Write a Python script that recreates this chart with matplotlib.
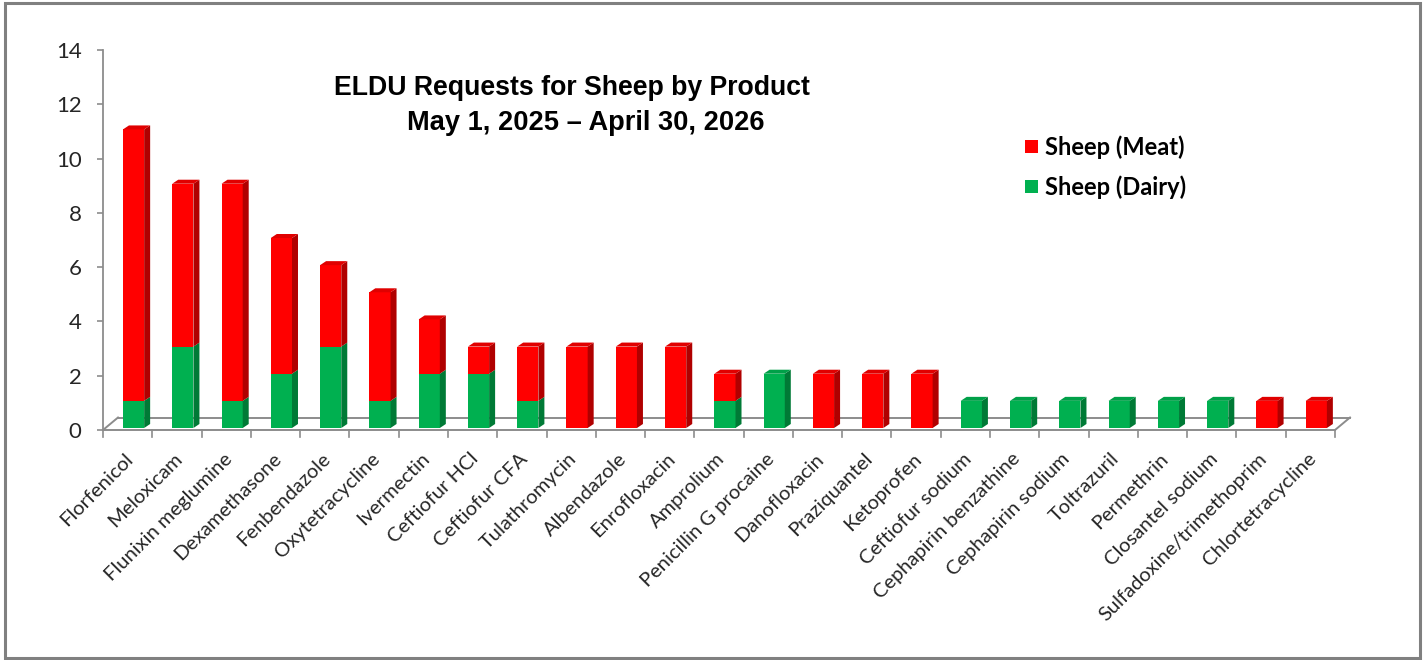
import matplotlib
matplotlib.use("Agg")
import matplotlib.pyplot as plt
from matplotlib.patches import Rectangle, Polygon
from matplotlib.lines import Line2D
import matplotlib.transforms as mtransforms

# ---- data -------------------------------------------------------------
products = [
    "Florfenicol", "Meloxicam", "Flunixin meglumine", "Dexamethasone",
    "Fenbendazole", "Oxytetracycline", "Ivermectin", "Ceftiofur HCl",
    "Ceftiofur CFA", "Tulathromycin", "Albendazole", "Enrofloxacin",
    "Amprolium", "Penicillin G procaine", "Danofloxacin", "Praziquantel",
    "Ketoprofen", "Ceftiofur sodium", "Cephapirin benzathine",
    "Cephapirin sodium", "Toltrazuril", "Permethrin", "Closantel sodium",
    "Sulfadoxine/trimethoprim", "Chlortetracycline",
]
sheep_dairy = [1, 3, 1, 2, 3, 1, 2, 2, 1, 0, 0, 0, 1, 2, 0, 0, 0,
               1, 1, 1, 1, 1, 1, 0, 0]
sheep_meat = [10, 6, 8, 5, 3, 4, 2, 1, 2, 3, 3, 3, 1, 0, 2, 2, 2,
              0, 0, 0, 0, 0, 0, 1, 1]
y_ticks = [0, 2, 4, 6, 8, 10, 12, 14]

title_line1 = "ELDU Requests for Sheep by Product"
title_line2 = "May 1, 2025 \u2013 April 30, 2026"
series_names = ["Sheep (Meat)", "Sheep (Dairy)"]

# ---- styling ----------------------------------------------------------
W, H, DPI = 1426, 660, 100
RED = ("#FF0000", "#B00000", "#E00000")      # front, side, top
GREEN = ("#00B050", "#007A36", "#00A048")
AXIS_GRAY = "#8C8C8C"
TEXT_COL = "#262626"
LABEL_FONT = ["Lato", "DejaVu Sans"]

fig = plt.figure(figsize=(W / DPI, H / DPI), dpi=DPI)
fig.patch.set_facecolor("white")

# outer frame
fig.add_artist(Rectangle((5 / W, 1 - 658 / H), (1420 - 5) / W, (658 - 3) / H,
                         transform=fig.transFigure, fill=False,
                         edgecolor="#808080", linewidth=2.2))

ax_left, ax_right, ax_top, ax_bot = 103, 1335, 50, 430
ax = fig.add_axes([ax_left / W, 1 - ax_bot / H,
                   (ax_right - ax_left) / W, (ax_bot - ax_top) / H])
n = len(products)
ax.set_xlim(-0.5, n - 0.5)
ax.set_ylim(0, 14)
ax.patch.set_alpha(0)
for s in ("top", "right", "bottom"):
    ax.spines[s].set_visible(False)
ax.spines["left"].set_color(AXIS_GRAY)
ax.spines["left"].set_linewidth(1.3)
ax.set_yticks(y_ticks)
ax.set_yticklabels([str(v) for v in y_ticks], fontfamily=LABEL_FONT,
                   fontsize=16, color=TEXT_COL)
ax.tick_params(axis="y", direction="out", length=4.5, width=1.2,
               color=AXIS_GRAY, pad=11)
ax.set_xticks([])

# pixel -> data conversions
cat_px = (ax_right - ax_left) / n
unit_px = (ax_bot - ax_top) / 14.0
px_x = lambda p: p / cat_px
px_y = lambda p: p / unit_px

# 3-D floor
fdx, fdy = px_x(15), px_y(12.5)
floor = [
    ((-0.5, n - 0.5), (0, 0)),
    ((-0.5 + fdx, n - 0.5 + fdx), (fdy, fdy)),
    ((-0.5, -0.5 + fdx), (0, fdy)),
    ((n - 0.5, n - 0.5 + fdx), (0, fdy)),
]
for xs, ys in floor:
    ax.add_line(Line2D(xs, ys, color=AXIS_GRAY, lw=1.4, clip_on=False,
                       zorder=1))
for k in range(n + 1):
    ax.add_line(Line2D((k - 0.5, k - 0.5), (0, -px_y(7)), color=AXIS_GRAY,
                       lw=1.2, clip_on=False, zorder=1))

# 3-D stacked columns
bw = 0.43
shift = 0.12
base = px_y(2)
ddx, ddy = px_x(6), px_y(4)


def draw_block(x0, y0, y1, cols, top):
    front, side, topc = cols
    x1 = x0 + bw
    ax.add_patch(Rectangle((x0, y0), bw, y1 - y0, facecolor=front,
                           edgecolor="none", zorder=3, clip_on=False))
    ax.add_patch(Polygon([(x1, y0), (x1 + ddx, y0 + ddy),
                          (x1 + ddx, y1 + ddy), (x1, y1)],
                         closed=True, facecolor=side, edgecolor="none",
                         zorder=3, clip_on=False))
    if top:
        ax.add_patch(Polygon([(x0, y1), (x0 + ddx, y1 + ddy),
                              (x1 + ddx, y1 + ddy), (x1, y1)],
                             closed=True, facecolor=topc, edgecolor="none",
                             zorder=3, clip_on=False))


for i in range(n):
    x0 = i + shift - bw / 2
    d, m = sheep_dairy[i], sheep_meat[i]
    if d > 0:
        draw_block(x0, base, base + d, GREEN, top=(m == 0))
    if m > 0:
        draw_block(x0, base + d, base + d + m, RED, top=True)

# category labels
lbl_trans = mtransforms.blended_transform_factory(ax.transData, ax.transAxes)
off = mtransforms.ScaledTranslation(3 / DPI, -26 / DPI, fig.dpi_scale_trans)
for i, name in enumerate(products):
    ax.text(i, 0, name, transform=lbl_trans + off, rotation=45,
            rotation_mode="anchor", ha="right", va="center",
            fontfamily=LABEL_FONT, fontsize=14.5, color=TEXT_COL)

# title
title_font = ["Liberation Sans", "DejaVu Sans"]
fig.text(572 / W, 1 - 95 / H, title_line1, ha="center", va="baseline",
         fontfamily=title_font, fontweight="bold", fontsize=19.2, color="black")
fig.text(586 / W, 1 - 130 / H, title_line2, ha="center", va="baseline",
         fontfamily=title_font, fontweight="bold", fontsize=19.6, color="black")

# legend
for k, (name, col) in enumerate(zip(series_names, (RED[0], GREEN[0]))):
    yc = 146 + 40 * k
    fig.add_artist(Rectangle((1025 / W, 1 - (yc + 6.5) / H), 13 / W, 13 / H,
                             transform=fig.transFigure, facecolor=col,
                             edgecolor="none"))
    fig.text(1045 / W, 1 - (yc + 1) / H, name, ha="left", va="center",
             fontfamily=LABEL_FONT, fontweight="bold", fontsize=17,
             color="black")

fig.savefig("out.png", dpi=DPI, facecolor="white")
